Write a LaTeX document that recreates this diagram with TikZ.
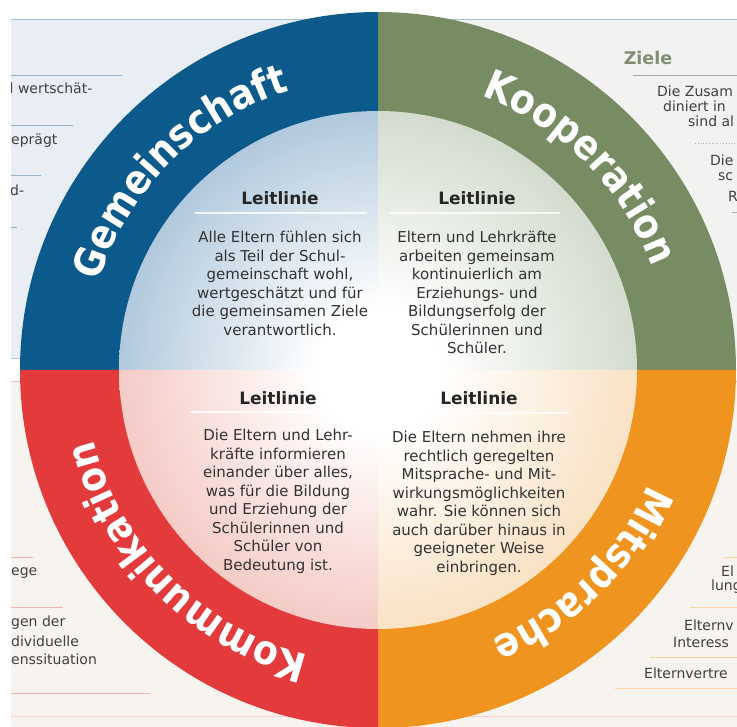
\documentclass[tikz,border=0pt]{standalone}
\usepackage{fontspec}
\setmainfont{DejaVu Sans}
\newfontfamily\ringfamily[FakeStretch=0.88]{DejaVu Sans}
\usetikzlibrary{decorations.text}

\definecolor{gemblue}{HTML}{0B5A8B}
\definecolor{koopgreen}{HTML}{778C63}
\definecolor{kommred}{HTML}{E33B3C}
\definecolor{mitorange}{HTML}{EF951F}
\definecolor{gemlight}{HTML}{4A82B0}
\definecolor{kooplight}{HTML}{9AAD8E}
\definecolor{kommlight}{HTML}{E8877A}
\definecolor{mitlight}{HTML}{F3BC78}
\definecolor{panelblue}{HTML}{E8EEF3}
\definecolor{panelgray}{HTML}{F2F3F1}
\definecolor{panelcream}{HTML}{F7F4EF}
\definecolor{zielgreen}{HTML}{7F8F72}

\pgfdeclareradialshading{gemshade}{\pgfpointorigin}{color(0bp)=(white); color(6bp)=(white); color(50bp)=(gemlight)}
\pgfdeclareradialshading{koopshade}{\pgfpointorigin}{color(0bp)=(white); color(6bp)=(white); color(50bp)=(kooplight)}
\pgfdeclareradialshading{kommshade}{\pgfpointorigin}{color(0bp)=(white); color(6bp)=(white); color(50bp)=(kommlight)}
\pgfdeclareradialshading{mitshade}{\pgfpointorigin}{color(0bp)=(white); color(6bp)=(white); color(50bp)=(mitlight)}

\newcommand{\ringfont}{\ringfamily\fontsize{41}{44}\selectfont\bfseries}

\tikzstyle{ringlabel} = [decorate,
                        decoration={text along path,
                                    text align=center,
                                    text color=white}]
\tikzstyle{leitkopf} = [font=\fontsize{17}{20}\selectfont\bfseries,
                       text=black!85]
\tikzstyle{leittext} = [align=center,
                       anchor=north,
                       inner sep=0pt,
                       font=\fontsize{15}{18.5}\selectfont,
                       text=black!80]
\tikzstyle{leitstrich} = [draw=white,
                         opacity=0.8,
                         line width=2pt]
\tikzstyle{randtext} = [anchor=west,
                       inner sep=0pt,
                       font=\fontsize{14}{17}\selectfont,
                       text=black!75]
\tikzstyle{randstrich} = [line width=0.8pt]

\begin{document}
\begin{tikzpicture}[x=1pt, y=1pt]
  \useasboundingbox (0,0) rectangle (737,-727);
  \fill[white] (0,0) rectangle (737,-727);

  % background panels
  \fill[panelblue] (11,-19) rectangle (378,-359);
  \fill[panelgray] (378,-19) rectangle (737,-359);
  \fill[panelcream] (11,-381) rectangle (737,-727);
  \draw[randstrich, draw=gemlight!50] (11,-19) -- (737,-19);
  \draw[randstrich, draw=gemlight!40] (11,-358) -- (378,-358);
  \draw[randstrich, draw=kommred!35] (11,-381) -- (737,-381);
  \draw[randstrich, draw=kommred!25] (11,-716) -- (737,-716);

  \begin{scope}
    \clip (11,-19) rectangle (737,-727);
    \node (w1) [randtext] at (9.5,-88) {l wertschät-};
    \node (w2) [randtext] at (11,-141) {eprägt};
    \node (w3) [randtext] at (10,-190) {d-};
    \node (w4) [randtext] at (11,-573) {ege};
    \node (w5) [randtext] at (11,-623) {gen der};
    \node (w6) [randtext] at (11,-641) {dividuelle};
    \node (w7) [randtext] at (11,-659) {enssituation};
    \draw[randstrich, draw=gemlight!60] (11,-75) -- (122,-75);
    \draw[randstrich, draw=gemlight!60] (11,-125) -- (73,-125);
    \draw[randstrich, draw=gemlight!60] (11,-175) -- (41,-175);
    \draw[randstrich, draw=gemlight!60] (11,-227) -- (17,-227);
    \draw[randstrich, draw=kommred!40] (11,-557) -- (33,-557);
    \draw[randstrich, draw=kommred!40] (11,-607) -- (63,-607);
    \draw[randstrich, draw=kommred!40] (11,-693) -- (150,-693);

    \node (ziele) [font=\fontsize{17.5}{20}\selectfont\bfseries, text=zielgreen] at (648,-58) {Ziele};
    \node (z1) [randtext] at (657,-91) {Die Zusam};
    \node (z2) [randtext] at (663,-106) {diniert in};
    \node (z3) [randtext] at (688,-121) {sind al};
    \node (z4) [randtext] at (710,-160) {Die};
    \node (z5) [randtext] at (718,-177) {sc};
    \node (z6) [randtext] at (728,-196) {R};
    \draw[randstrich, draw=black!35] (633,-75) -- (737,-75);
    \draw[randstrich, draw=black!30, dotted] (695,-143) -- (737,-143);
    \draw[randstrich, draw=black!30] (732,-212) -- (737,-212);

    \node (m1) [randtext] at (721,-571) {El};
    \node (m2) [randtext] at (711,-587) {lung};
    \node (m3) [randtext] at (684,-625) {Elternv};
    \node (m4) [randtext] at (673,-642) {Interess};
    \node (m5) [randtext] at (644,-673) {Elternvertre};
    \draw[randstrich, draw=mitorange!40] (725,-557) -- (737,-557);
    \draw[randstrich, draw=mitorange!40] (690,-607) -- (737,-607);
    \draw[randstrich, draw=mitorange!40] (650,-657) -- (737,-657);
    \draw[randstrich, draw=mitorange!40] (615,-688) -- (737,-688);
  \end{scope}

  % ring
  \coordinate (c) at (378,-370);
  \fill[gemblue] (c) -- ++(180:358) arc[start angle=180, end angle=90, radius=358] -- cycle;
  \fill[koopgreen] (c) -- ++(90:358) arc[start angle=90, end angle=0, radius=358] -- cycle;
  \fill[mitorange] (c) -- ++(0:358) arc[start angle=0, end angle=-90, radius=358] -- cycle;
  \fill[kommred] (c) -- ++(-90:358) arc[start angle=270, end angle=180, radius=358] -- cycle;

  \begin{scope}
    \clip (c) -- ++(180:259) arc[start angle=180, end angle=90, radius=259] -- cycle;
    \shade[shading=gemshade] (c) circle[radius=259];
  \end{scope}
  \begin{scope}
    \clip (c) -- ++(90:259) arc[start angle=90, end angle=0, radius=259] -- cycle;
    \shade[shading=koopshade] (c) circle[radius=259];
  \end{scope}
  \begin{scope}
    \clip (c) -- ++(0:259) arc[start angle=0, end angle=-90, radius=259] -- cycle;
    \shade[shading=mitshade] (c) circle[radius=259];
  \end{scope}
  \begin{scope}
    \clip (c) -- ++(-90:259) arc[start angle=270, end angle=180, radius=259] -- cycle;
    \shade[shading=kommshade] (c) circle[radius=259];
  \end{scope}

  \path[ringlabel, decoration={text={|\ringfont|Gemeinschaft}}]
    (c) ++(180:293) arc[start angle=180, end angle=90, radius=293];
  \path[ringlabel, decoration={text={|\ringfont|Kooperation}}]
    (c) ++(90:293) arc[start angle=90, end angle=0, radius=293];
  \path[ringlabel, decoration={text={|\ringfont|Mitsprache}}]
    (c) ++(0:293) arc[start angle=0, end angle=-90, radius=293];
  \path[ringlabel, decoration={text={|\ringfont|Kommunikation}}]
    (c) ++(-90:293) arc[start angle=270, end angle=180, radius=293];

  % Leitlinien
  \node (k1) [leitkopf] at (280,-198) {Leitlinie};
  \node (k2) [leitkopf] at (477,-198) {Leitlinie};
  \node (k3) [leitkopf] at (278,-398) {Leitlinie};
  \node (k4) [leitkopf] at (479,-398) {Leitlinie};
  \draw[leitstrich] (195,-213) -- (367,-213);
  \draw[leitstrich] (390,-213) -- (560,-213);
  \draw[leitstrich] (190,-412) -- (365,-412);
  \draw[leitstrich] (389,-413) -- (569,-413);

  \node (t1) [leittext] at (280,-231) {Alle Eltern fühlen sich\\als Teil der Schul-\\gemeinschaft wohl,\\wertgeschätzt und für\\die gemeinsamen Ziele\\verantwortlich.};
  \node (t2) [leittext] at (477,-231) {Eltern und Lehrkräfte\\arbeiten gemeinsam\\kontinuierlich am\\Erziehungs- und\\Bildungserfolg der\\Schülerinnen und\\Schüler.};
  \node (t3) [leittext] at (278,-429) {Die Eltern und Lehr-\\kräfte informieren\\einander über alles,\\was für die Bildung\\und Erziehung der\\Schülerinnen und\\Schüler von\\Bedeutung ist.};
  \node (t4) [leittext] at (479,-431) {Die Eltern nehmen ihre\\rechtlich geregelten\\Mitsprache- und Mit-\\wirkungsmöglichkeiten\\wahr. Sie können sich\\auch darüber hinaus in\\geeigneter Weise\\einbringen.};
\end{tikzpicture}
\end{document}
